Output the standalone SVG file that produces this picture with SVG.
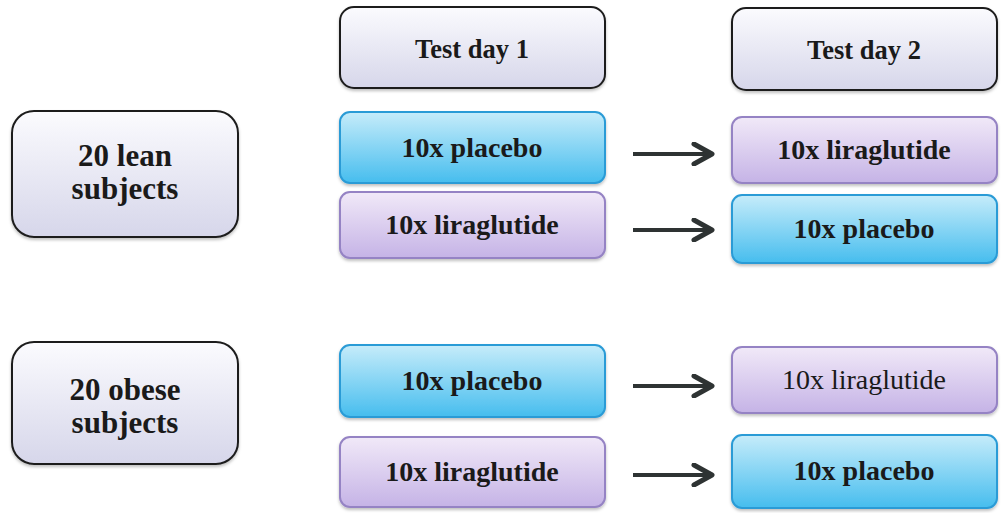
<svg xmlns="http://www.w3.org/2000/svg" width="1007" height="513" viewBox="0 0 1007 513">
  <defs>
    <linearGradient id="gGray" x1="0" y1="0" x2="0" y2="1">
      <stop offset="0" stop-color="#fbfbfe"/>
      <stop offset="1" stop-color="#d6d6ea"/>
    </linearGradient>
    <linearGradient id="gBlue" x1="0" y1="0" x2="0" y2="1">
      <stop offset="0" stop-color="#c6ecfa"/>
      <stop offset="1" stop-color="#46bdee"/>
    </linearGradient>
    <linearGradient id="gPurple" x1="0" y1="0" x2="0" y2="1">
      <stop offset="0" stop-color="#f1e9f8"/>
      <stop offset="1" stop-color="#c5b3e6"/>
    </linearGradient>
    <filter id="sh" x="-10%" y="-10%" width="120%" height="130%">
      <feDropShadow dx="0" dy="2" stdDeviation="1.5" flood-color="#000" flood-opacity="0.25"/>
    </filter>
    <marker id="ah" viewBox="0 0 24 24" refX="21" refY="12" markerWidth="24" markerHeight="24" markerUnits="userSpaceOnUse" orient="auto">
      <path d="M3,2 L21,12 L3,22" fill="none" stroke="#2e3333" stroke-width="5" stroke-linejoin="round" stroke-linecap="round"/>
    </marker>
  </defs>
  <style>
    .gray { fill: url(#gGray); stroke: #1e1e1e; stroke-width: 2; filter: url(#sh); }
    .blue { fill: url(#gBlue); stroke: #2a9bd6; stroke-width: 2; filter: url(#sh); }
    .purple { fill: url(#gPurple); stroke: #9583c4; stroke-width: 2; filter: url(#sh); }
    text { font-family: "Liberation Serif", "DejaVu Serif", serif; fill: #1a1a1a; text-anchor: middle; font-weight: bold; }
    .hd { font-size: 26.5px; }
    .tr { font-size: 28px; }
    .reg { font-weight: normal; }
    .grp { font-size: 31px; }
    .arrow { stroke: #2e3333; stroke-width: 4; fill: none; marker-end: url(#ah); }
  </style>

  <g id="lean">
    <rect class="gray" x="12" y="111" width="226" height="126" rx="22"/>
    <text class="grp" x="125" y="166">20 lean</text>
    <text class="grp" x="125" y="199">subjects</text>
  </g>
  <g id="obese">
    <rect class="gray" x="12" y="342" width="226" height="122" rx="22"/>
    <text class="grp" x="125" y="400">20 obese</text>
    <text class="grp" x="125" y="433">subjects</text>
  </g>

  <g id="day1">
    <rect class="gray" x="340" y="7" width="265" height="81" rx="14"/>
    <text class="hd" x="472" y="58">Test day 1</text>
  </g>
  <g id="day2">
    <rect class="gray" x="732" y="8" width="265" height="82" rx="14"/>
    <text class="hd" x="864" y="59">Test day 2</text>
  </g>

  <g id="lean-d1-placebo">
    <rect class="blue" x="340" y="112" width="265" height="71" rx="10"/>
    <text class="tr" x="472" y="157">10x placebo</text>
  </g>
  <g id="lean-d1-lira">
    <rect class="purple" x="340" y="192" width="265" height="66" rx="10"/>
    <text class="tr" x="472" y="234">10x liraglutide</text>
  </g>
  <g id="lean-d2-lira">
    <rect class="purple" x="732" y="117" width="265" height="66" rx="10"/>
    <text class="tr" x="864" y="159">10x liraglutide</text>
  </g>
  <g id="lean-d2-placebo">
    <rect class="blue" x="732" y="195" width="265" height="68" rx="10"/>
    <text class="tr" x="864" y="238">10x placebo</text>
  </g>

  <g id="obese-d1-placebo">
    <rect class="blue" x="340" y="345" width="265" height="72" rx="10"/>
    <text class="tr" x="472" y="390">10x placebo</text>
  </g>
  <g id="obese-d1-lira">
    <rect class="purple" x="340" y="437" width="265" height="70" rx="10"/>
    <text class="tr" x="472" y="481">10x liraglutide</text>
  </g>
  <g id="obese-d2-lira">
    <rect class="purple" x="732" y="347" width="265" height="66" rx="10"/>
    <text class="tr reg" x="864" y="389">10x liraglutide</text>
  </g>
  <g id="obese-d2-placebo">
    <rect class="blue" x="732" y="435" width="265" height="73" rx="10"/>
    <text class="tr" x="864" y="480">10x placebo</text>
  </g>

  <g id="connectors">
    <line class="arrow" x1="633" y1="154" x2="712" y2="154"/>
    <line class="arrow" x1="633" y1="230" x2="712" y2="230"/>
    <line class="arrow" x1="633" y1="386" x2="712" y2="386"/>
    <line class="arrow" x1="633" y1="475" x2="712" y2="475"/>
  </g>
</svg>
